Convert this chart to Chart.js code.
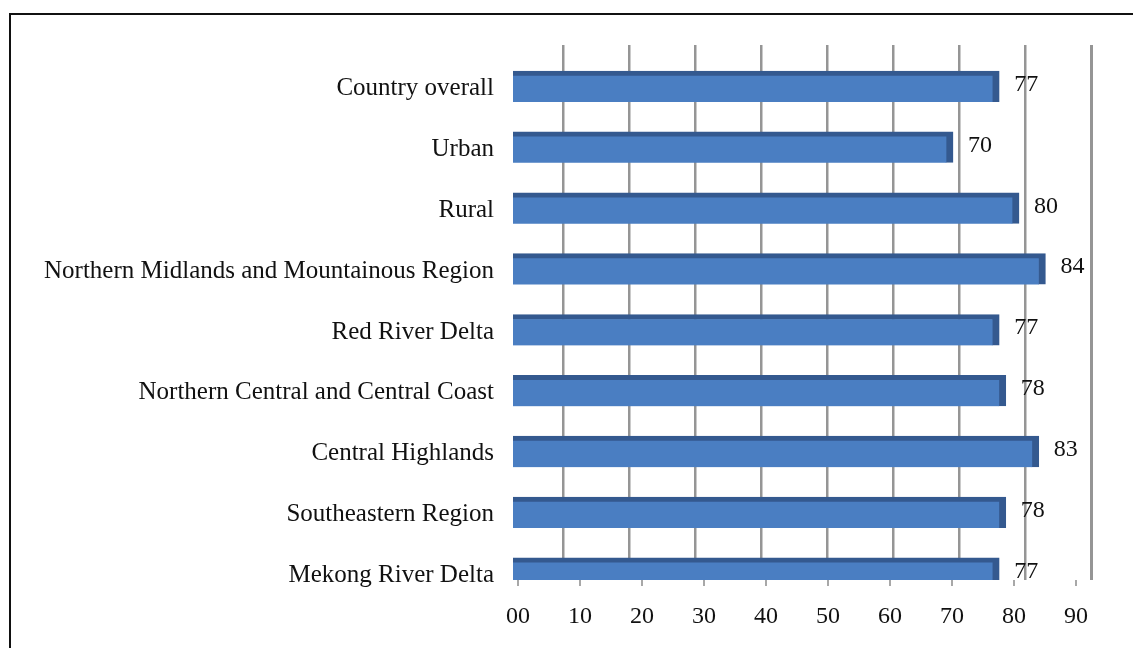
<!DOCTYPE html>
<html>
<head>
<meta charset="utf-8">
<script src="https://cdn.jsdelivr.net/npm/chart.js@4"></script>
<style>
  html, body { margin: 0; padding: 0; background: #fff; }
  #wrap { position: relative; width: 1133px; height: 648px; overflow: hidden; }
  #frame { position: absolute; left: 9px; top: 13px; right: -10px; bottom: -10px;
           border-left: 2px solid #111; border-top: 2px solid #111; pointer-events: none; }
  canvas { position: absolute; left: 0; top: 0; }
</style>
</head>
<body>
<div id="wrap">
  <canvas id="c" width="1133" height="648"></canvas>
  <div id="frame"></div>
</div>
<script>
const categories = [
  'Country overall',
  'Urban',
  'Rural',
  'Northern Midlands and Mountainous Region',
  'Red River Delta',
  'Northern Central and Central Coast',
  'Central Highlands',
  'Southeastern Region',
  'Mekong River Delta'
];
const values = [77, 70, 80, 84, 77, 78, 83, 78, 77];
const tickValues = [0, 10, 20, 30, 40, 50, 60, 70, 80, 90];
const tickLabels = ['00', '10', '20', '30', '40', '50', '60', '70', '80', '90'];
const gridValues = [10, 20, 30, 40, 50, 60, 70, 80, 90];

const FONT = '"Liberation Serif", "Times New Roman", serif';

const valueLabels = {
  id: 'valueLabels',
  afterDatasetsDraw(chart) {
    const ctx = chart.ctx;
    const meta = chart.getDatasetMeta(0);
    ctx.save();
    ctx.font = '24px ' + FONT;
    ctx.fillStyle = '#111';
    ctx.textAlign = 'left';
    ctx.textBaseline = 'middle';
    meta.data.forEach((bar, i) => {
      ctx.fillText(String(values[i]), bar.x + 15, bar.y - 2);
    });
    ctx.restore();
  }
};

new Chart(document.getElementById('c'), {
  type: 'bar',
  data: {
    datasets: [{
      data: values.map((v, i) => ({ x: v, y: i })),
      backgroundColor: '#4A7EC2',
      borderColor: '#34598F',
      borderWidth: { top: 5, right: 7, bottom: 0, left: 0 },
      borderSkipped: false,
      barThickness: 31,
      xAxisID: 'x',
      yAxisID: 'y'
    }]
  },
  options: {
    indexAxis: 'y',
    responsive: false,
    animation: false,
    layout: { padding: { left: 0, top: 45, right: 38, bottom: 0 } },
    plugins: { legend: { display: false }, tooltip: { enabled: false } },
    scales: {
      y: {
        type: 'linear',
        reverse: true,
        offset: false,
        min: -0.682,
        max: 8.108,
        afterBuildTicks: s => { s.ticks = categories.map((c, i) => ({ value: i })); },
        afterFit: s => { s.width = 513; },
        grid: { display: false, drawTicks: false },
        border: { display: false },
        ticks: {
          autoSkip: false,
          padding: 19,
          labelOffset: 2,
          color: '#111',
          font: { family: FONT, size: 25 },
          callback: v => categories[v]
        }
      },
      x: {
        type: 'linear',
        position: 'bottom',
        display: false,
        min: 3.33,
        max: 91.51
      },
      xg: {
        type: 'linear',
        position: 'top',
        min: 2.42,
        max: 90.6,
        afterBuildTicks: s => { s.ticks = gridValues.map(v => ({ value: v })); },
        afterFit: s => { s.height = 0; },
        border: { display: false },
        grid: {
          drawTicks: false,
          color: '#959595',
          lineWidth: c => (c.tick && c.tick.value === 90 ? 3 : 2.5)
        },
        ticks: { display: false }
      },
      xt: {
        type: 'linear',
        position: 'bottom',
        min: -0.806,
        max: 93.06,
        afterBuildTicks: s => { s.ticks = tickValues.map(v => ({ value: v })); },
        afterFit: s => { s.height = 68; },
        border: { display: false },
        grid: {
          drawOnChartArea: false,
          drawTicks: true,
          tickLength: 6,
          color: '#a8a8a8',
          lineWidth: 2
        },
        ticks: {
          autoSkip: false,
          maxRotation: 0,
          padding: 16,
          color: '#111',
          font: { family: FONT, size: 24 },
          callback: v => tickLabels[tickValues.indexOf(v)]
        }
      }
    }
  },
  plugins: [valueLabels]
});
</script>
</body>
</html>
